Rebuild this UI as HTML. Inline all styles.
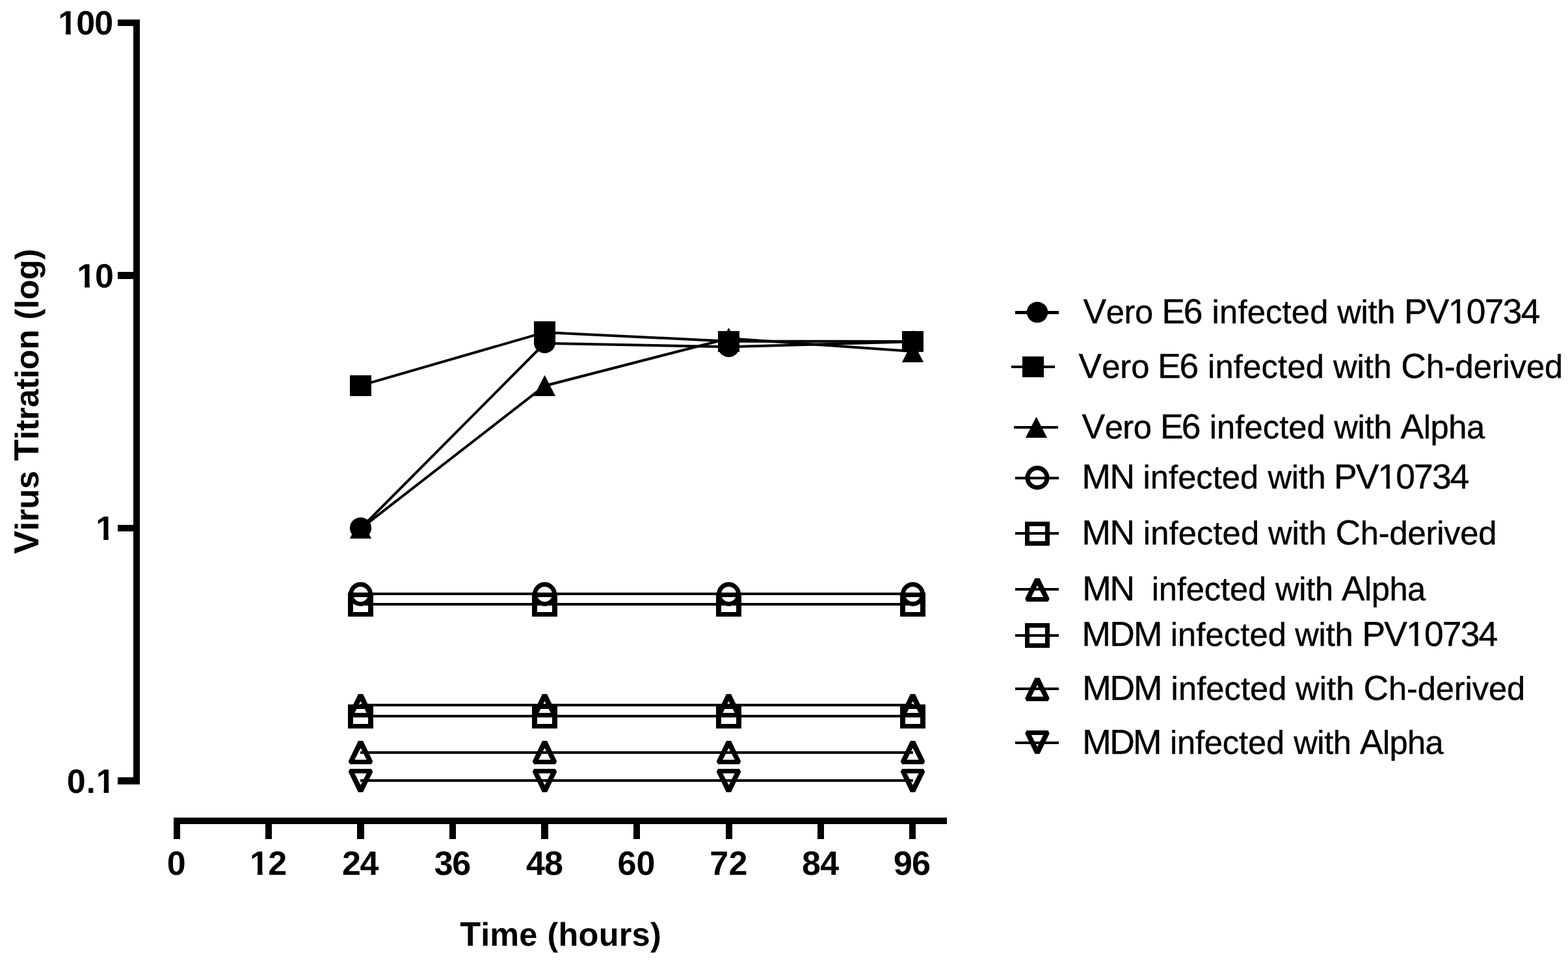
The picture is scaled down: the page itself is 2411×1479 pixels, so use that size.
<!DOCTYPE html>
<html lang="en"><head><meta charset="utf-8">
<title>Virus Titration (log) vs Time (hours)</title>
<style>
html,body{margin:0;padding:0;background:#fff;}
body{width:2411px;height:1479px;overflow:hidden;}
svg{display:block;}
text{font-family:"Liberation Sans",Arial,Helvetica,sans-serif;fill:#000;font-kerning:none;font-variant-ligatures:none;text-rendering:geometricPrecision;white-space:pre;}
.tk{font-weight:bold;font-size:50.4px;}
.tk .c{font-size:52px;}
.ti{font-weight:bold;font-size:50.4px;}
.ty .c{font-size:53.6px;}
.tx .c{font-size:52.2px;}
.lg{font-size:50.7px;stroke:#000;stroke-width:0.4px;}
.lg .c{font-size:53.4px;}
.ln{fill:none;stroke:#000;stroke-width:4;stroke-linejoin:miter;}
.o{fill:none;stroke:#000;stroke-width:7;}
.w{fill:#fff;}
</style></head><body>
<svg width="2411" height="1479" viewBox="0 0 2411 1479" role="img" aria-label="Virus titration (log) over time (hours) for Vero E6, MN and MDM cells">
<rect width="2411" height="1479" fill="#fff"/>
<g id="ticklabels">
<text class="tk" y="52.8"><tspan x="89.15" style="letter-spacing:-0.84px"><tspan class="c">100</tspan></tspan></text>
<text class="tk" y="441.8"><tspan x="118.35" style="letter-spacing:-1.25px"><tspan class="c">10</tspan></tspan></text>
<text class="tk" y="829.8"><tspan x="147.35"><tspan class="c">1</tspan></tspan></text>
<text class="tk" y="1218.8"><tspan x="102.84" style="letter-spacing:0.98px"><tspan class="c">0</tspan>.<tspan class="c">1</tspan></tspan></text>
<text class="tk" y="1344.9"><tspan x="256.74"><tspan class="c">0</tspan></tspan></text>
<text class="tk" y="1344.9"><tspan x="384.05" style="letter-spacing:-0.7px"><tspan class="c">12</tspan></tspan></text>
<text class="tk" y="1344.9"><tspan x="526.1" style="letter-spacing:-1.56px"><tspan class="c">24</tspan></tspan></text>
<text class="tk" y="1344.9"><tspan x="667.71" style="letter-spacing:-1.37px"><tspan class="c">36</tspan></tspan></text>
<text class="tk" y="1344.9"><tspan x="809.11" style="letter-spacing:-1.15px"><tspan class="c">48</tspan></tspan></text>
<text class="tk" y="1344.9"><tspan x="949.6" style="letter-spacing:0.1px"><tspan class="c">60</tspan></tspan></text>
<text class="tk" y="1344.9"><tspan x="1091.17" style="letter-spacing:0.38px"><tspan class="c">72</tspan></tspan></text>
<text class="tk" y="1344.9"><tspan x="1233.05" style="letter-spacing:-0.61px"><tspan class="c">84</tspan></tspan></text>
<text class="tk" y="1344.9"><tspan x="1374.1" style="letter-spacing:-1.06px"><tspan class="c">96</tspan></tspan></text>
</g>
<g id="titles">
<text class="ti ty" y="0" transform="translate(59,851.2) rotate(-90)"><tspan x="-0.37" style="letter-spacing:-0.11px"><tspan class="c">V</tspan>irus </tspan><tspan x="142.6" style="letter-spacing:-0.21px"><tspan class="c">T</tspan>itration </tspan><tspan x="359.69" style="letter-spacing:0.01px">(log)</tspan></text>
<text class="ti tx" y="1453.9"><tspan x="707.31" style="letter-spacing:0.06px"><tspan class="c">T</tspan>ime </tspan><tspan x="841.49" style="letter-spacing:0.28px">(hours)</tspan></text>
</g>
<g id="legendtext">
<text class="lg" y="497"><tspan x="1665.57" style="letter-spacing:-0.41px"><tspan class="c">V</tspan>ero </tspan><tspan x="1786.62" style="letter-spacing:-2.49px"><tspan class="c">E6</tspan> </tspan><tspan x="1863.61" style="letter-spacing:0.17px">infected </tspan><tspan x="2056.17" style="letter-spacing:-0.31px">with </tspan><tspan x="2158.92" style="letter-spacing:-1.7px"><tspan class="c">PV10734</tspan></tspan></text>
<text class="lg" y="581"><tspan x="1658.57" style="letter-spacing:-0.01px"><tspan class="c">V</tspan>ero </tspan><tspan x="1780.02" style="letter-spacing:-2.19px"><tspan class="c">E6</tspan> </tspan><tspan x="1857.01" style="letter-spacing:0.21px">infected </tspan><tspan x="2050.07" style="letter-spacing:-0.05px">with </tspan><tspan x="2154.29" style="letter-spacing:-0.11px"><tspan class="c">C</tspan>h-derived</tspan></text>
<text class="lg" y="674"><tspan x="1663.57" style="letter-spacing:-0.51px"><tspan class="c">V</tspan>ero </tspan><tspan x="1784.12" style="letter-spacing:-2.99px"><tspan class="c">E6</tspan> </tspan><tspan x="1859.81" style="letter-spacing:0.06px">infected </tspan><tspan x="2051.27" style="letter-spacing:-0.35px">with </tspan><tspan x="2153.6" style="letter-spacing:-0.47px"><tspan class="c">A</tspan>lpha</tspan></text>
<text class="lg" y="751"><tspan x="1663.62" style="letter-spacing:-1.51px"><tspan class="c">MN</tspan> </tspan><tspan x="1757.61">infected </tspan><tspan x="1949.47" style="letter-spacing:-0.31px">with </tspan><tspan x="2051.02" style="letter-spacing:-1.88px"><tspan class="c">PV10734</tspan></tspan></text>
<text class="lg" y="837"><tspan x="1663.52" style="letter-spacing:-1.41px"><tspan class="c">MN</tspan> </tspan><tspan x="1757.81" style="letter-spacing:0.11px">infected </tspan><tspan x="1950.07" style="letter-spacing:-0.08px">with </tspan><tspan x="2053.39" style="letter-spacing:-0.19px"><tspan class="c">C</tspan>h-derived</tspan></text>
<text class="lg" y="923"><tspan x="1664.32" style="letter-spacing:-2.21px"><tspan class="c">MN</tspan> </tspan><tspan> </tspan><tspan x="1770.71" style="letter-spacing:-0.14px">infected </tspan><tspan x="1961.07" style="letter-spacing:-0.31px">with </tspan><tspan x="2063" style="letter-spacing:-0.54px"><tspan class="c">A</tspan>lpha</tspan></text>
<text class="lg" y="993"><tspan x="1663.52" style="letter-spacing:-1.83px"><tspan class="c">MDM</tspan> </tspan><tspan x="1799.71" style="letter-spacing:0.11px">infected </tspan><tspan x="1991.27" style="letter-spacing:-0.25px">with </tspan><tspan x="2094.42" style="letter-spacing:-1.81px"><tspan class="c">PV10734</tspan></tspan></text>
<text class="lg" y="1076"><tspan x="1664.32" style="letter-spacing:-2.23px"><tspan class="c">MDM</tspan> </tspan><tspan x="1800.61" style="letter-spacing:0.04px">infected </tspan><tspan x="1992.07" style="letter-spacing:0.05px">with </tspan><tspan x="2096.59" style="letter-spacing:-0.15px"><tspan class="c">C</tspan>h-derived</tspan></text>
<text class="lg" y="1159"><tspan x="1664.32" style="letter-spacing:-2.63px"><tspan class="c">MDM</tspan> </tspan><tspan x="1798.91" style="letter-spacing:-0.19px">infected </tspan><tspan x="1989.17" style="letter-spacing:-0.41px">with </tspan><tspan x="2090.9" style="letter-spacing:-0.64px"><tspan class="c">A</tspan>lpha</tspan></text>
</g>
<g id="footcovers" class="w">
<rect x="91" y="47" width="10.03" height="7"/>
<rect x="108.67" y="47" width="9.33" height="7"/>
<rect x="121" y="436" width="9.23" height="7"/>
<rect x="137.87" y="436" width="9.13" height="7"/>
<rect x="150" y="824" width="9.23" height="7"/>
<rect x="166.87" y="824" width="9.13" height="7"/>
<rect x="150" y="1213" width="9.62" height="7"/>
<rect x="167.25" y="1213" width="8.75" height="7"/>
<rect x="386" y="1339" width="9.93" height="7"/>
<rect x="403.57" y="1339" width="9.43" height="7"/>
<rect x="2230" y="492" width="9.74" height="6"/>
<rect x="2245.36" y="492" width="9.64" height="6"/>
<rect x="2122" y="746" width="9.47" height="6"/>
<rect x="2137.09" y="746" width="9.91" height="6"/>
<rect x="2165" y="988" width="10.01" height="6"/>
<rect x="2180.62" y="988" width="9.38" height="6"/>
</g>
<g id="axes" fill="#000">
<rect x="205" y="30" width="10" height="1176"/>
<rect x="181" y="30" width="29" height="10"/>
<rect x="181" y="418" width="29" height="11"/>
<rect x="181" y="807" width="29" height="10"/>
<rect x="181" y="1195" width="29" height="11"/>
<rect x="267" y="1257" width="1189" height="10"/>
<rect x="267" y="1257" width="10" height="33"/>
<rect x="408" y="1257" width="10" height="33"/>
<rect x="549" y="1257" width="11" height="33"/>
<rect x="691" y="1257" width="10" height="33"/>
<rect x="832" y="1257" width="11" height="33"/>
<rect x="974" y="1257" width="10" height="33"/>
<rect x="1116" y="1257" width="10" height="33"/>
<rect x="1257" y="1257" width="10" height="33"/>
<rect x="1398" y="1257" width="10" height="33"/>
</g>
<g id="data" fill="#000">
<polyline class="ln" points="554,812.9 837.5,527.8 1120.5,533.3 1404,525.3"/>
<polyline class="ln" points="554,592.8 837.5,510.9 1120.5,524.7 1404,525"/>
<polyline class="ln" points="554,813.2 837.5,593.2 1120.5,520.2 1404,540.3"/>
<polyline class="ln" points="554,913 837.5,913 1120.5,913 1404,913"/>
<polyline class="ln" points="554,929 837.5,929 1120.5,929 1404,929"/>
<polyline class="ln" points="554,1084 837.5,1084 1120.5,1084 1404,1084"/>
<polyline class="ln" points="554,1101 837.5,1101 1120.5,1101 1404,1101"/>
<polyline class="ln" points="554,1157 837.5,1157 1120.5,1157 1404,1157"/>
<polyline class="ln" points="554,1200 837.5,1200 1120.5,1200 1404,1200"/>
<ellipse cx="554.5" cy="811.8" rx="16.6" ry="16.2"/>
<ellipse cx="837.5" cy="526.7" rx="16.6" ry="16.2"/>
<ellipse cx="1120.5" cy="532.7" rx="16.6" ry="16.2"/>
<ellipse cx="1403.5" cy="525" rx="16.6" ry="16.2"/>
<rect x="538" y="577" width="33" height="32"/>
<rect x="821" y="494" width="33" height="32"/>
<rect x="1104" y="509" width="33" height="32"/>
<rect x="1387" y="509" width="33" height="32"/>
<polygon points="554.5,795.8 571.1,828 537.9,828"/>
<polygon points="837.5,576.8 854.1,609 820.9,609"/>
<polygon points="1120.5,503.8 1137.1,536 1103.9,536"/>
<polygon points="1403.5,524.8 1420.1,557 1386.9,557"/>
<circle class="o" cx="554.5" cy="913.5" r="15.05"/>
<circle class="o" cx="837.5" cy="913.5" r="15.05"/>
<circle class="o" cx="1120.5" cy="913.5" r="15.05"/>
<circle class="o" cx="1403.5" cy="913.5" r="15.05"/>
<path fill-rule="evenodd" d="M535 911H574V948H535ZM543 918H566V941H543Z"/>
<path fill-rule="evenodd" d="M818 911H857V948H818ZM826 918H849V941H826Z"/>
<path fill-rule="evenodd" d="M1101 911H1140V948H1101ZM1109 918H1132V941H1109Z"/>
<path fill-rule="evenodd" d="M1384 911H1423V948H1384ZM1392 918H1415V941H1392Z"/>
<path fill-rule="evenodd" d="M550.9 1067L558.1 1067L573.3 1098.5L570.9 1103L538.1 1103L535.7 1098.5ZM554.5 1077.9L563.65 1096L545.35 1096Z"/>
<path fill-rule="evenodd" d="M833.9 1067L841.1 1067L856.3 1098.5L853.9 1103L821.1 1103L818.7 1098.5ZM837.5 1077.9L846.65 1096L828.35 1096Z"/>
<path fill-rule="evenodd" d="M1116.9 1067L1124.1 1067L1139.3 1098.5L1136.9 1103L1104.1 1103L1101.7 1098.5ZM1120.5 1077.9L1129.65 1096L1111.35 1096Z"/>
<path fill-rule="evenodd" d="M1399.9 1067L1407.1 1067L1422.3 1098.5L1419.9 1103L1387.1 1103L1384.7 1098.5ZM1403.5 1077.9L1412.65 1096L1394.35 1096Z"/>
<path fill-rule="evenodd" d="M535 1083H574V1120H535ZM543 1090H566V1113H543Z"/>
<path fill-rule="evenodd" d="M818 1083H857V1120H818ZM826 1090H849V1113H826Z"/>
<path fill-rule="evenodd" d="M1101 1083H1140V1120H1101ZM1109 1090H1132V1113H1109Z"/>
<path fill-rule="evenodd" d="M1384 1083H1423V1120H1384ZM1392 1090H1415V1113H1392Z"/>
<path fill-rule="evenodd" d="M550.9 1139L558.1 1139L573.3 1170.5L570.9 1175L538.1 1175L535.7 1170.5ZM554.5 1149.9L563.65 1168L545.35 1168Z"/>
<path fill-rule="evenodd" d="M833.9 1139L841.1 1139L856.3 1170.5L853.9 1175L821.1 1175L818.7 1170.5ZM837.5 1149.9L846.65 1168L828.35 1168Z"/>
<path fill-rule="evenodd" d="M1116.9 1139L1124.1 1139L1139.3 1170.5L1136.9 1175L1104.1 1175L1101.7 1170.5ZM1120.5 1149.9L1129.65 1168L1111.35 1168Z"/>
<path fill-rule="evenodd" d="M1399.9 1139L1407.1 1139L1422.3 1170.5L1419.9 1175L1387.1 1175L1384.7 1170.5ZM1403.5 1149.9L1412.65 1168L1394.35 1168Z"/>
<path fill-rule="evenodd" d="M550.9 1218L558.1 1218L573.3 1186.5L570.9 1182L538.1 1182L535.7 1186.5ZM554.5 1207.1L563.65 1189L545.35 1189Z"/>
<path fill-rule="evenodd" d="M833.9 1218L841.1 1218L856.3 1186.5L853.9 1182L821.1 1182L818.7 1186.5ZM837.5 1207.1L846.65 1189L828.35 1189Z"/>
<path fill-rule="evenodd" d="M1116.9 1218L1124.1 1218L1139.3 1186.5L1136.9 1182L1104.1 1182L1101.7 1186.5ZM1120.5 1207.1L1129.65 1189L1111.35 1189Z"/>
<path fill-rule="evenodd" d="M1399.9 1218L1407.1 1218L1422.3 1186.5L1419.9 1182L1387.1 1182L1384.7 1186.5ZM1403.5 1207.1L1412.65 1189L1394.35 1189Z"/>
</g>
<g id="legend" fill="#000">
<rect x="1561" y="478" width="67" height="5"/>
<ellipse cx="1595" cy="480" rx="16.2" ry="16.1"/>
<rect x="1555" y="562" width="67" height="4"/>
<rect x="1572" y="548" width="33" height="32"/>
<rect x="1559" y="655" width="68" height="4"/>
<polygon points="1593.5,640.8 1610.1,673 1576.9,673"/>
<rect x="1561" y="733" width="67" height="4"/>
<circle class="o" cx="1595" cy="734.5" r="15.05"/>
<rect x="1561" y="818" width="67" height="4"/>
<path fill-rule="evenodd" d="M1576 802H1614V839H1576ZM1583 809H1607V832H1583Z"/>
<rect x="1561" y="904" width="67" height="4"/>
<path fill-rule="evenodd" d="M1591.4 889L1598.6 889L1613.8 920.5L1611.4 925L1578.6 925L1576.2 920.5ZM1595 899.9L1604.15 918L1585.85 918Z"/>
<rect x="1561" y="975" width="67" height="4"/>
<path fill-rule="evenodd" d="M1576 958H1614V996H1576ZM1583 965H1607V989H1583Z"/>
<rect x="1561" y="1057" width="67" height="4"/>
<path fill-rule="evenodd" d="M1591.4 1042L1598.6 1042L1613.8 1073.5L1611.4 1078L1578.6 1078L1576.2 1073.5ZM1595 1052.9L1604.15 1071L1585.85 1071Z"/>
<rect x="1561" y="1140" width="67" height="4"/>
<path fill-rule="evenodd" d="M1591.4 1159L1598.6 1159L1613.8 1127.5L1611.4 1123L1578.6 1123L1576.2 1127.5ZM1595 1148.1L1604.15 1130L1585.85 1130Z"/>
</g>
</svg>
</body></html>
